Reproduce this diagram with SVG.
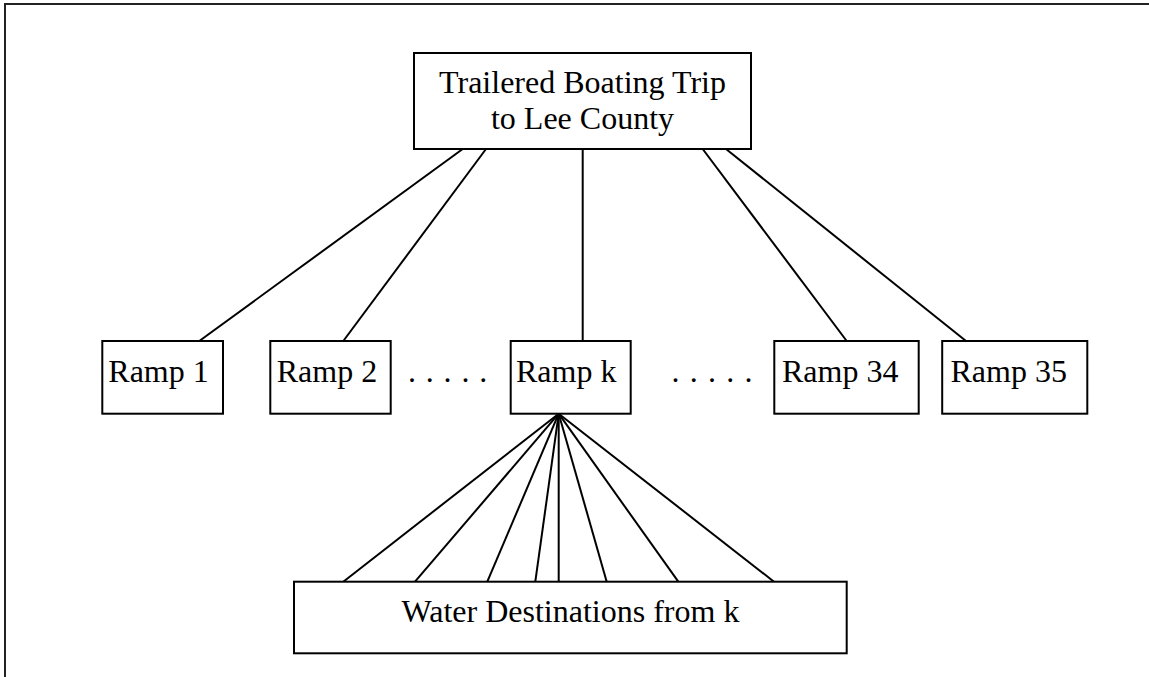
<svg xmlns="http://www.w3.org/2000/svg" width="1149" height="677" viewBox="0 0 1149 677">
<style>
.box{fill:#fff;stroke:#000;stroke-width:2}
.lbl{font-family:"Liberation Serif","Times New Roman",serif;font-size:32px;fill:#000}
.mid{text-anchor:middle}
.con line{stroke:#000;stroke-width:2}
</style>
<rect x="5" y="4" width="1160" height="690" fill="#fff" stroke="#222" stroke-width="2"/>
<g id="connectors" class="con">
<line x1="462.7" y1="149" x2="199.3" y2="341"/>
<line x1="486" y1="149" x2="343.3" y2="341"/>
<line x1="582.7" y1="149" x2="582.7" y2="341"/>
<line x1="702.7" y1="149" x2="846.7" y2="341"/>
<line x1="726" y1="149" x2="966" y2="341"/>
<line x1="558.7" y1="413.7" x2="343.3" y2="581.7"/>
<line x1="558.7" y1="413.7" x2="415" y2="581.7"/>
<line x1="558.7" y1="413.7" x2="487.3" y2="581.7"/>
<line x1="558.7" y1="413.7" x2="535.3" y2="581.7"/>
<line x1="558.7" y1="413.7" x2="558.7" y2="581.7"/>
<line x1="558.7" y1="413.7" x2="606.7" y2="581.7"/>
<line x1="558.7" y1="413.7" x2="678.3" y2="581.7"/>
<line x1="558.7" y1="413.7" x2="774" y2="581.7"/>
</g>
<g id="trip">
<rect class="box" x="414" y="53" width="337" height="96"/>
<text class="lbl mid" x="582.5" y="92.7">Trailered Boating Trip</text>
<text class="lbl mid" x="582.5" y="129">to Lee County</text>
</g>
<g id="ramp1">
<rect class="box" x="102.3" y="341" width="120.7" height="72.7"/>
<text class="lbl" x="108.3" y="381.7">Ramp 1</text>
</g>
<g id="ramp2">
<rect class="box" x="270.3" y="341" width="120.4" height="72.7"/>
<text class="lbl" x="276.7" y="381.7">Ramp 2</text>
</g>
<g id="dots1">
<text class="lbl" x="408" y="382" letter-spacing="0.9">. . . . .</text>
</g>
<g id="rampk">
<rect class="box" x="510.7" y="341" width="120" height="72.7"/>
<text class="lbl" x="516" y="381.7">Ramp k</text>
</g>
<g id="dots2">
<text class="lbl" x="671.6" y="382" letter-spacing="1.1">. . . . .</text>
</g>
<g id="ramp34">
<rect class="box" x="774.3" y="341" width="144.4" height="72.7"/>
<text class="lbl" x="782" y="381.7">Ramp 34</text>
</g>
<g id="ramp35">
<rect class="box" x="942.2" y="341" width="145.1" height="72.7"/>
<text class="lbl" x="950.5" y="381.7">Ramp 35</text>
</g>
<g id="water">
<rect class="box" x="294" y="581.7" width="552.7" height="71.6"/>
<text class="lbl mid" x="570.5" y="621.7">Water Destinations from k</text>
</g>
</svg>
